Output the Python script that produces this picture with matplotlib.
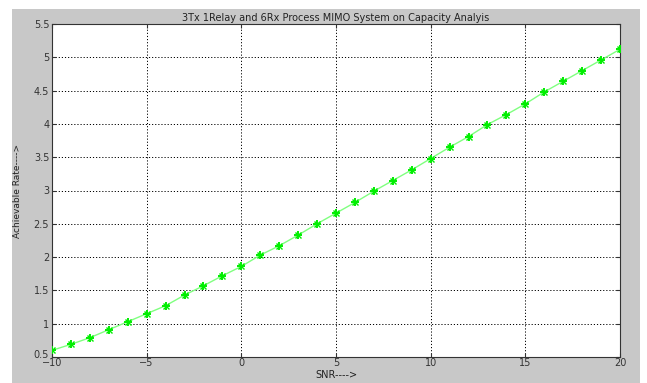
import numpy as np
import matplotlib.pyplot as plt
import matplotlib.transforms as mtransforms
from matplotlib.patches import Rectangle

snr = list(range(-10, 21))
rate = [0.60, 0.69, 0.79, 0.91, 1.03, 1.15, 1.27, 1.43, 1.57, 1.72,
        1.86, 2.03, 2.17, 2.33, 2.50, 2.66, 2.82, 2.99, 3.15, 3.31,
        3.48, 3.65, 3.81, 3.99, 4.14, 4.30, 4.48, 4.64, 4.80, 4.96, 5.12]
xticks = [-10, -5, 0, 5, 10, 15, 20]
yticks = [0.5, 1, 1.5, 2, 2.5, 3, 3.5, 4, 4.5, 5, 5.5]

fig = plt.figure(figsize=(6.47, 3.83), dpi=100, facecolor='white')
# grey MATLAB-style figure panel
fig.patches.append(Rectangle((12/647, 0), 628/647, 374/383, transform=fig.transFigure,
                             facecolor='#c8c8c8', edgecolor='none', zorder=-10))

ax = fig.add_axes([52/647, 26/383, 568/647, 333/383])
ax.set_zorder(1)
ax.set_facecolor('white')
ax.plot(snr, rate, color='#80ff80', lw=1, zorder=3)
# MATLAB '*' marker: plus + cross
ax.plot(snr, rate, ls='none', marker='+', ms=6, color='#00ee00', mew=1.4, zorder=4)
ax.plot(snr, rate, ls='none', marker='x', ms=4, color='#00ee00', mew=1, zorder=4)

ax.set_xlim(-10, 20)
ax.set_ylim(0.5, 5.5)
ax.set_xticks(xticks)
ax.set_yticks(yticks)
ax.set_yticklabels([('%g' % v) for v in yticks])
ax.grid(True, color='black', linestyle=(0, (1.2, 2)), lw=0.7)
ax.tick_params(direction='in', labelsize=7, colors='#333333', top=True, right=True, length=3, pad=2)
ax.tick_params(axis='x', pad=1)
for s in ax.spines.values():
    s.set_color('#333333')
    s.set_linewidth(0.8)

# lift the bottom y label a little so it sits clear of "-10"
lab = ax.get_yticklabels()[0]
lab.set_transform(lab.get_transform() + mtransforms.ScaledTranslation(0, 2/72, fig.dpi_scale_trans))

ax.set_title('3Tx 1Relay and 6Rx Process MIMO System on Capacity Analyis', fontsize=7, pad=2, color='#222222')
ax.set_xlabel('SNR---->', fontsize=7, labelpad=1, color='#222222')
ax.set_ylabel('Achievable Rate---->', fontsize=6.5, color='#222222')
ax.yaxis.set_label_coords(-0.053, 0.5)

fig.savefig('out.png', dpi=100, facecolor='white')
